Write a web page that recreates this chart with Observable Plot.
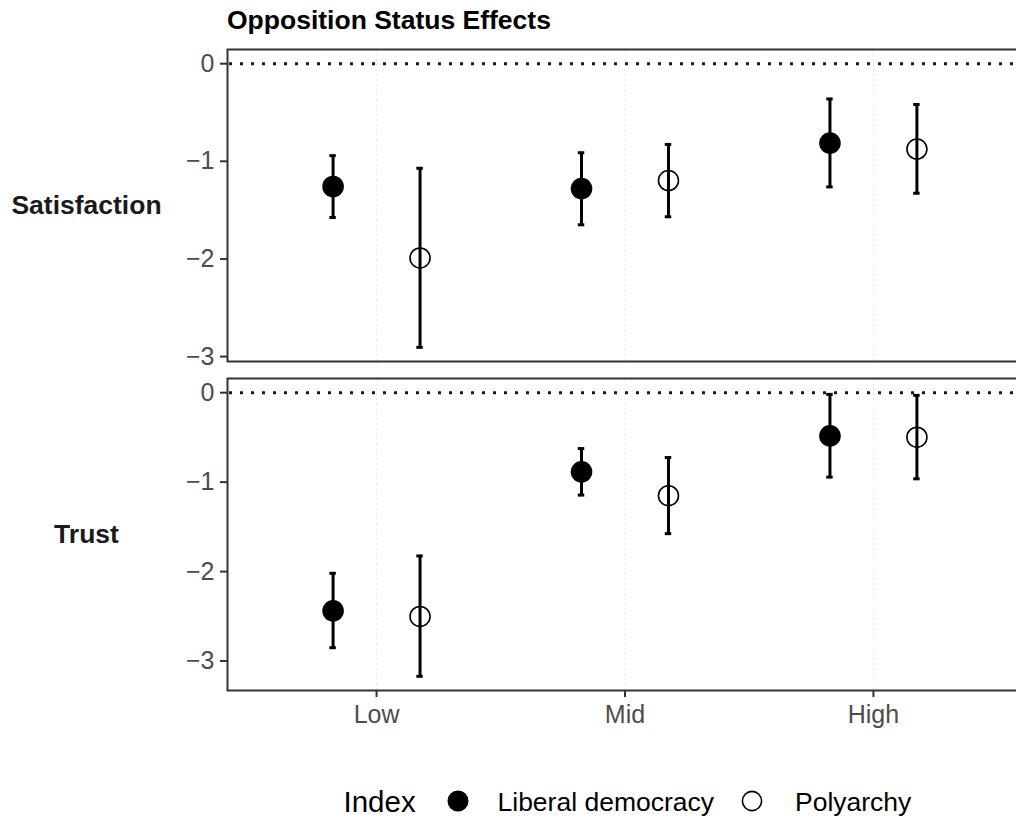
<!DOCTYPE html>
<html>
<head>
<meta charset="utf-8">
<script src="https://cdn.jsdelivr.net/npm/d3@7"></script>
<script src="https://cdn.jsdelivr.net/npm/@observablehq/plot@0.6"></script>
<style>
  body { margin: 0; background: #fff; overflow: hidden; }
  #chart {
    position: relative; width: 1016px; height: 818px; overflow: hidden;
    font-family: "Liberation Sans", Arial, Helvetica, sans-serif;
  }
  #chart svg { position: absolute; left: 0; max-width: none !important; }
</style>
</head>
<body>
<div id="chart"></div>
<script>
// Opposition status levels (x categories) and the two democracy indices
const levels = ["Low", "Mid", "High"];
const indices = ["Liberal democracy", "Polyarchy"];
const outcomes = ["Satisfaction", "Trust"];
const yTicks = [0, -1, -2, -3];

// Estimates with lower / upper interval bounds, ordered Low, Mid, High
const satisfactionLiberalEst = [-1.258, -1.279, -0.813];
const satisfactionLiberalLo  = [-1.575, -1.650, -1.262];
const satisfactionLiberalHi  = [-0.942, -0.912, -0.361];
const satisfactionPolyEst    = [-1.990, -1.197, -0.874];
const satisfactionPolyLo     = [-2.905, -1.568, -1.327];
const satisfactionPolyHi     = [-1.071, -0.827, -0.418];

const trustLiberalEst = [-2.439, -0.885, -0.483];
const trustLiberalLo  = [-2.851, -1.145, -0.944];
const trustLiberalHi  = [-2.019, -0.625, -0.019];
const trustPolyEst    = [-2.502, -1.152, -0.498];
const trustPolyLo     = [-3.171, -1.576, -0.963];
const trustPolyHi     = [-1.825, -0.725, -0.030];

const title = "Opposition Status Effects";
const legendTitle = "Index";

// Horizontal dodge between the two indices, in category units
const dodge = {"Liberal democracy": -0.175, "Polyarchy": 0.175};
const capHalf = 0.013;
const FONT = '"Liberation Sans", Arial, Helvetica, sans-serif';

function rows(series) {
  const out = [];
  for (const [index, est, lo, hi] of series) {
    levels.forEach((level, i) => {
      out.push({level, index, est: est[i], lo: lo[i], hi: hi[i], xpos: i + dodge[index]});
    });
  }
  return out;
}

const panels = [
  {outcome: outcomes[0], data: rows([
    [indices[0], satisfactionLiberalEst, satisfactionLiberalLo, satisfactionLiberalHi],
    [indices[1], satisfactionPolyEst, satisfactionPolyLo, satisfactionPolyHi]
  ]), top: 48, showX: false},
  {outcome: outcomes[1], data: rows([
    [indices[0], trustLiberalEst, trustLiberalLo, trustLiberalHi],
    [indices[1], trustPolyEst, trustPolyLo, trustPolyHi]
  ]), top: 377, showX: true}
];

const fmt = d => d < 0 ? "\u2212" + (-d) : String(d);
const chart = document.getElementById("chart");

for (const p of panels) {
  // free y scale per panel, padded 5% around the data and the zero line
  const lo = Math.min(0, d3.min(p.data, d => d.lo));
  const hi = Math.max(0, d3.max(p.data, d => d.hi));
  const pad = (hi - lo) * 0.05;
  const filled = p.data.filter(d => d.index === indices[0]);
  const open = p.data.filter(d => d.index === indices[1]);
  const marginBottom = p.showX ? 60 : 1;

  const svg = Plot.plot({
    width: 1024,
    height: 1 + 312 + marginBottom,
    marginLeft: 227,
    marginRight: 2,
    marginTop: 1,
    marginBottom,
    style: {fontFamily: FONT, fontSize: "25px", background: "transparent", overflow: "visible", maxWidth: "none"},
    x: {domain: [-0.6, 2.6], axis: null},
    y: {domain: [lo - pad, hi + pad], axis: null},
    marks: [
      Plot.ruleX([0, 1, 2], {stroke: "#e6e6e6", strokeWidth: 1, strokeDasharray: "2,3"}),
      Plot.ruleY([0], {stroke: "#1a1a1a", strokeWidth: 3, strokeDasharray: "3,8", strokeDashoffset: -2}),
      Plot.ruleX(p.data, {x: "xpos", y1: "lo", y2: "hi", stroke: "black", strokeWidth: 3}),
      Plot.ruleY(p.data, {y: "lo", x1: d => d.xpos - capHalf, x2: d => d.xpos + capHalf, stroke: "black", strokeWidth: 3}),
      Plot.ruleY(p.data, {y: "hi", x1: d => d.xpos - capHalf, x2: d => d.xpos + capHalf, stroke: "black", strokeWidth: 3}),
      Plot.dot(filled, {x: "xpos", y: "est", r: 10.8, fill: "black", stroke: "none"}),
      Plot.dot(open, {x: "xpos", y: "est", r: 10, fill: "none", stroke: "black", strokeWidth: 1.6}),
      Plot.frame({stroke: "#333333", strokeWidth: 2}),
      Plot.axisY({ticks: yTicks, tickFormat: fmt, tickSize: 7, tickPadding: 6,
        stroke: "#333333", strokeWidth: 2, fill: "#4d4d4d", fontSize: 25, label: null}),
      ...(p.showX ? [Plot.axisX({ticks: [0, 1, 2], tickFormat: i => levels[i], tickSize: 7, tickPadding: 8,
        stroke: "#333333", strokeWidth: 2, fill: "#4d4d4d", fontSize: 25, label: null})] : []),
      Plot.text([p.outcome], {frameAnchor: "left", dx: -141, text: d => d, textAnchor: "middle",
        lineAnchor: "middle", fontSize: 26.5, fontWeight: "bold", fill: "#1a1a1a"})
    ]
  });
  svg.style.top = p.top + "px";
  svg.style.maxWidth = "none";
  chart.appendChild(svg);
}

// Title and legend
const overlay = d3.select(chart).append("svg")
  .attr("width", 1016).attr("height", 818)
  .style("top", "0px")
  .style("font-family", FONT);

overlay.append("text")
  .attr("x", 227).attr("y", 29)
  .attr("font-size", 26.5).attr("font-weight", "bold").attr("fill", "#000")
  .text(title);

const ly = 801;
overlay.append("text").attr("x", 343.5).attr("y", ly + 10.5)
  .attr("font-size", 29.5).attr("fill", "#000").text(legendTitle);
const legendItems = [
  {label: indices[0], cx: 458, tx: 497.5, filled: true},
  {label: indices[1], cx: 752, tx: 795, filled: false}
];
for (const it of legendItems) {
  overlay.append("circle").attr("cx", it.cx).attr("cy", ly)
    .attr("r", it.filled ? 10.5 : 9.6)
    .attr("fill", it.filled ? "black" : "none")
    .attr("stroke", it.filled ? "none" : "black").attr("stroke-width", 1.6);
  overlay.append("text").attr("x", it.tx).attr("y", ly + 9.5)
    .attr("font-size", 26.5).attr("fill", "#000").text(it.label);
}
</script>
</body>
</html>
